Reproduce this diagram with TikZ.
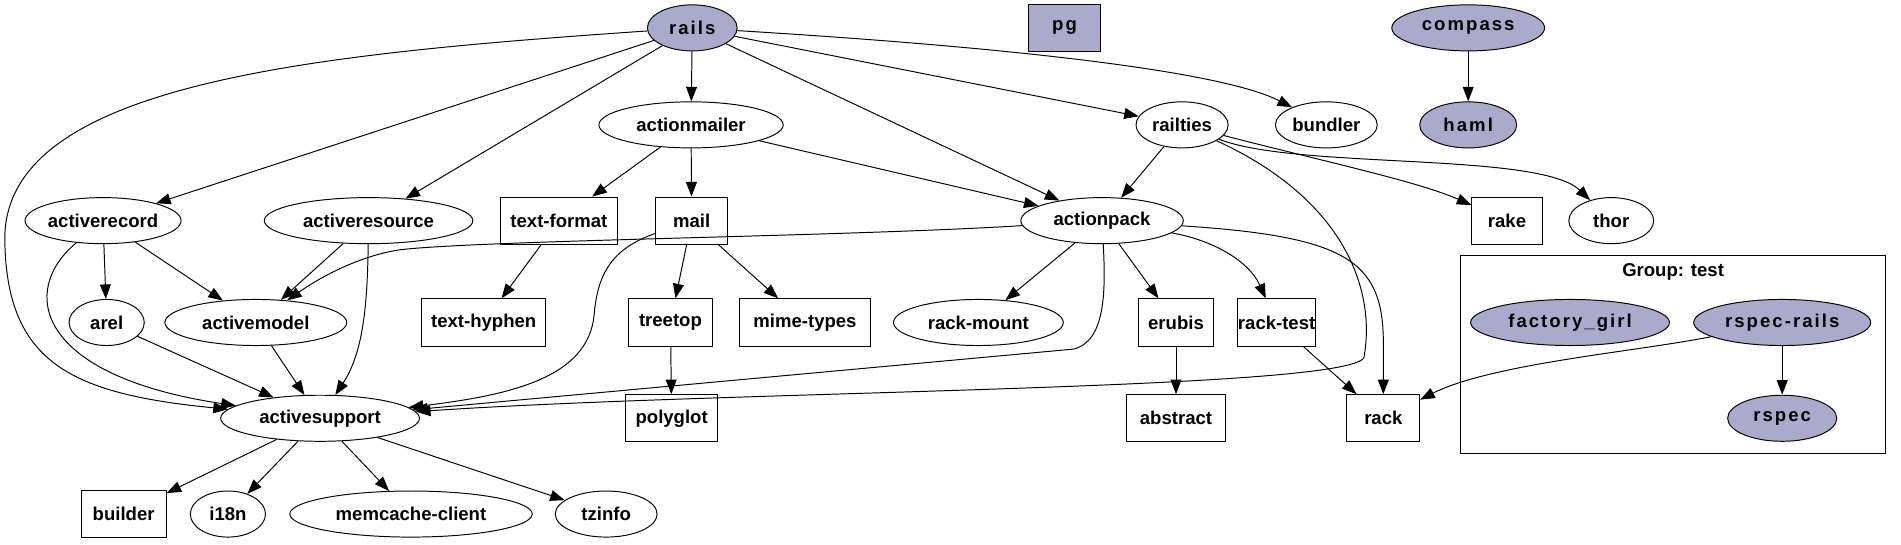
\documentclass[tikz,border=0pt]{standalone}
\usepackage{fontspec}
\setmainfont{Liberation Sans}
\newfontfamily\spacedfont[LetterSpace=11]{Liberation Sans}
\usetikzlibrary{arrows.meta,shapes.geometric}
\definecolor{gfill}{RGB}{170,170,204}
\tikzset{
  base/.style={draw, line width=0.8pt, font=\fontsize{15.3}{18}\selectfont\bfseries, inner sep=0pt},
  ell/.style={base, ellipse, minimum height=38pt},
  box/.style={base, rectangle, minimum height=39pt},
  filled/.style={fill=gfill, font=\fontsize{15.3}{18}\selectfont\spacedfont\bfseries},
  edge/.style={line width=0.8pt, -{Triangle[length=12pt,width=9pt]}},
  grp/.style={draw, line width=0.8pt},
}
\begin{document}
\begin{tikzpicture}[x=1pt,y=-1pt]
\useasboundingbox (0,0) rectangle (1568,449);
% row 1
\node[ell, filled, minimum width=74pt] (rails) at (571,23) {rails};
\node[box, filled, minimum width=59pt] (pg) at (878,23) {pg};
\node[ell, filled, minimum width=126pt] (compass) at (1211,23) {compass};
% row 2
\node[ell, minimum width=152pt] (actionmailer) at (570,103) {actionmailer};
\node[ell, minimum width=76pt] (railties) at (975,103) {railties};
\node[ell, minimum width=84pt] (bundler) at (1094,103) {bundler};
\node[ell, filled, minimum width=80pt] (haml) at (1211,103) {haml};
% row 3
\node[ell, minimum width=126pt] (activerecord) at (85,182) {activerecord};
\node[ell, minimum width=172pt] (activeresource) at (304,182) {activeresource};
\node[box, minimum width=96pt] (textformat) at (461,182) {text-format};
\node[box, minimum width=59pt] (mail) at (570.5,182) {mail};
\node[ell, minimum width=134pt] (actionpack) at (909,182) {actionpack};
\node[box, minimum width=58pt] (rake) at (1243,182) {rake};
\node[ell, minimum width=70pt] (thor) at (1329,182) {thor};
% group
\draw[grp] (1205,211) rectangle (1555,374);
\node[font=\fontsize{15.3}{18}\selectfont\bfseries, inner sep=0pt] (grplabel) at (1380,224) {Group: test};
% row 4
\node[ell, minimum width=62pt] (arel) at (88,266) {arel};
\node[ell, minimum width=150pt] (activemodel) at (211,266) {activemodel};
\node[box, minimum width=102pt] (texthyphen) at (399,266) {text-hyphen};
\node[box, minimum width=70pt] (treetop) at (553,266) {treetop};
\node[box, minimum width=108pt] (mimetypes) at (664,266) {mime-types};
\node[ell, minimum width=140pt] (rackmount) at (807,266) {rack-mount};
\node[box, minimum width=62pt] (erubis) at (970,266) {erubis};
\node[box, minimum width=64pt] (racktest) at (1053,266) {rack-test};
\node[ell, filled, minimum width=164pt] (factorygirl) at (1295,266) {factory\_girl};
\node[ell, filled, minimum width=146pt] (rspecrails) at (1470,266) {rspec-rails};
% row 5
\node[ell, minimum width=164pt] (activesupport) at (264,345) {activesupport};
\node[box, minimum width=76pt] (polyglot) at (554,345) {polyglot};
\node[box, minimum width=82pt] (abstract) at (970,345) {abstract};
\node[box, minimum width=60pt] (rack) at (1141,345) {rack};
\node[ell, filled, minimum width=90pt] (rspec) at (1470,345) {rspec};
% row 6
\node[box, minimum width=70pt] (builder) at (102,424) {builder};
\node[ell, minimum width=62pt] (i18n) at (188,424) {i18n};
\node[ell, minimum width=200pt] (memcache) at (339,424) {memcache-client};
\node[ell, minimum width=84pt] (tzinfo) at (500,424) {tzinfo};

% edges from rails
\draw[edge] (rails) .. controls (250,45) and (0,70) .. (4,200) .. controls (6,300) and (60,325) .. (activesupport);
\draw[edge] (rails) -- (activerecord);
\draw[edge] (rails) -- (activeresource);
\draw[edge] (rails) -- (actionmailer);
\draw[edge] (rails) -- (actionpack);
\draw[edge] (rails) -- (railties);
\draw[edge] (rails) .. controls (850,40) and (1010,60) .. (bundler);
\draw[edge] (compass) -- (haml);
% actionmailer
\draw[edge] (actionmailer) -- (textformat);
\draw[edge] (actionmailer) -- (mail);
\draw[edge] (actionmailer) -- (actionpack);
% railties
\draw[edge] (railties) -- (actionpack);
\draw[edge] (railties) .. controls (1100,135) and (1170,150) .. (rake);
\draw[edge] (railties) .. controls (1070,140) and (1270,125) .. (thor);
\draw[edge] (railties) .. controls (1110,165) and (1135,240) .. (1125,295) .. controls (1110,322) and (600,322) .. (activesupport);
% actionpack
\draw[edge] (actionpack) .. controls (700,195) and (400,198) .. (330,206) .. controls (290,212) and (255,235) .. (activemodel);
\draw[edge] (actionpack) .. controls (912,240) and (912,282) .. (885,288) -- (activesupport);
\draw[edge] (actionpack) -- (rackmount);
\draw[edge] (actionpack) -- (erubis);
\draw[edge] (actionpack) .. controls (1000,198) and (1030,215) .. (racktest);
\draw[edge] (actionpack) .. controls (1110,195) and (1140,215) .. (1141,280) -- (rack);
% mail
\draw[edge] (mail) .. controls (505,205) and (493,225) .. (490,260) .. controls (485,312) and (420,326) .. (activesupport);
\draw[edge] (mail) -- (treetop);
\draw[edge] (mail) -- (mimetypes);
\draw[edge] (textformat) -- (texthyphen);
\draw[edge] (treetop) -- (polyglot);
\draw[edge] (erubis) -- (abstract);
\draw[edge] (racktest) -- (rack);
\draw[edge] (rspecrails) .. controls (1350,290) and (1230,300) .. (rack);
\draw[edge] (rspecrails) -- (rspec);
% active*
\draw[edge] (activerecord) -- (arel);
\draw[edge] (activerecord) -- (activemodel);
\draw[edge] (activerecord) .. controls (15,240) and (30,310) .. (activesupport);
\draw[edge] (activeresource) -- (activemodel);
\draw[edge] (activeresource) .. controls (303,250) and (300,290) .. (activesupport);
\draw[edge] (arel) -- (activesupport);
\draw[edge] (activemodel) -- (activesupport);
% activesupport
\draw[edge] (activesupport) -- (builder);
\draw[edge] (activesupport) -- (i18n);
\draw[edge] (activesupport) -- (memcache);
\draw[edge] (activesupport) -- (tzinfo);
\end{tikzpicture}
\end{document}
